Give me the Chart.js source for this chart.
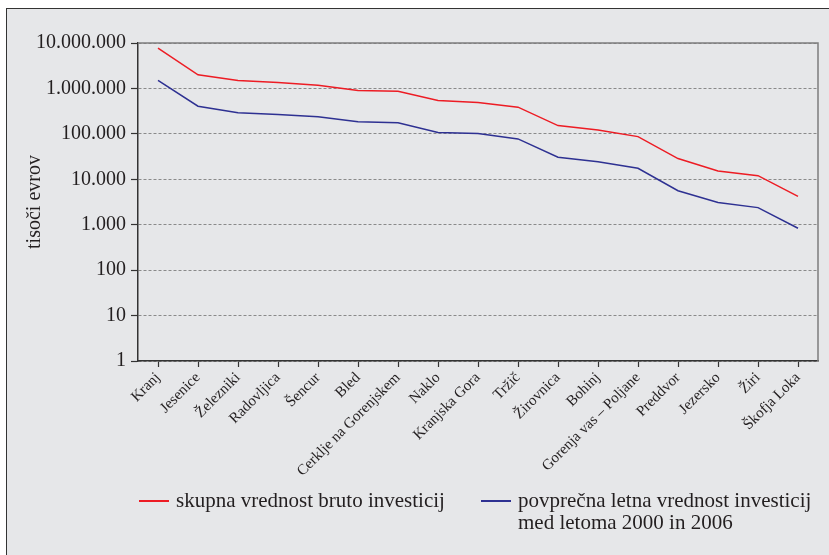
<!DOCTYPE html>
<html>
<head>
<meta charset="utf-8">
<script src="https://cdn.jsdelivr.net/npm/chart.js@4.4.1/dist/chart.umd.min.js"></script>
<style>
  body { margin: 0; background: #fff; font-family: "Liberation Serif", serif; color: #231f20; }
  #frame { position: absolute; left: 6px; top: 8px; width: 823px; height: 547px;
           border-left: 1px solid #333; border-top: 1px solid #333; background: #e6e7e9; }
  #chart { position: absolute; left: 0; top: 0; }
  .leg { position: absolute; font-size: 21px; line-height: 22px; white-space: pre-line; }
  .leg span { position: absolute; height: 1.5px; width: 30px; }
</style>
</head>
<body>
<div id="frame">
  <canvas id="chart" width="822" height="546"></canvas>
</div>
<div id="legend"></div>
<script>
var towns = ['Kranj', 'Jesenice', 'Železniki', 'Radovljica', 'Šencur', 'Bled', 'Cerklje na Gorenjskem',
  'Naklo', 'Kranjska Gora', 'Tržič', 'Žirovnica', 'Bohinj', 'Gorenja vas – Poljane', 'Preddvor',
  'Jezersko', 'Žiri', 'Škofja Loka'];
var skupna = [7700000, 2000000, 1490000, 1350000, 1180000, 900000, 870000, 540000, 490000, 387000,
  152000, 122000, 87000, 28600, 15300, 12000, 4200];
var povprecna = [1500000, 407000, 290000, 266000, 237000, 184000, 175000, 107000, 102000, 77500,
  30700, 24200, 17500, 5600, 3070, 2380, 837];
var yTicks = [1, 10, 100, 1000, 10000, 100000, 1000000, 10000000];
var seriesNames = ['skupna vrednost bruto investicij', 'povprečna letna vrednost investicij\nmed letoma 2000 in 2006'];
var colors = ['#ed1c24', '#2e3192'];

var font = '"Liberation Serif", serif';
var ink = '#231f20';

// top and right edge of the plot frame
var frameLines = {
  id: 'frameLines',
  afterDraw: function(chart) {
    var a = chart.chartArea, ctx = chart.ctx;
    ctx.save();
    ctx.strokeStyle = '#7d7d7d';
    ctx.lineWidth = 1.5;
    ctx.beginPath();
    ctx.moveTo(a.left, a.top);
    ctx.lineTo(a.right, a.top);
    ctx.lineTo(a.right, a.bottom);
    ctx.stroke();
    ctx.restore();
  }
};

var chart = new Chart(document.getElementById('chart'), {
  type: 'line',
  data: {
    labels: towns,
    datasets: [
      { label: seriesNames[0], data: skupna, borderColor: colors[0], borderWidth: 1.5, pointRadius: 0, tension: 0 },
      { label: seriesNames[1], data: povprecna, borderColor: colors[1], borderWidth: 1.5, pointRadius: 0, tension: 0 }
    ]
  },
  options: {
    responsive: false,
    animation: false,
    devicePixelRatio: 1,
    layout: { padding: { top: 34, right: 11, left: 0, bottom: 0 } },
    plugins: { legend: { display: false }, tooltip: { enabled: false } },
    scales: {
      x: {
        offset: true,
        afterFit: function(s) { s.height = 194; },
        grid: { drawOnChartArea: false, tickLength: 6, tickColor: '#333', tickWidth: 1.2 },
        border: { color: '#333', width: 1.5 },
        ticks: { autoSkip: false, minRotation: 45, maxRotation: 45, padding: 2, color: ink,
                 font: { family: font, size: 15 } }
      },
      y: {
        type: 'logarithmic',
        min: 1,
        max: 10000000,
        afterFit: function(s) { s.width = 131; },
        afterBuildTicks: function(s) { s.ticks = yTicks.map(function(v) { return { value: v }; }); },
        grid: { color: '#8a8a8a', lineWidth: 1, tickLength: 7, tickColor: '#333', tickWidth: 1.2, tickBorderDash: [] },
        border: { color: '#333', width: 1.5, dash: [3, 2] },
        ticks: {
          padding: 5, color: ink, font: { family: font, size: 20 },
          callback: function(v) { return String(v).replace(/\B(?=(\d{3})+(?!\d))/g, '.'); }
        },
        title: { display: true, text: 'tisoči evrov', color: ink, padding: { top: 16, bottom: 0 },
                 font: { family: font, size: 20 } }
      }
    }
  },
  plugins: [frameLines]
});

// legend below the chart, built from the dataset labels
var legPos = [[139, 489], [481, 489]];
var legend = document.getElementById('legend');
chart.data.datasets.forEach(function(ds, i) {
  var d = document.createElement('div');
  d.className = 'leg';
  d.style.left = (legPos[i][0] + 37) + 'px';
  d.style.top = legPos[i][1] + 'px';
  d.textContent = ds.label;
  var sw = document.createElement('span');
  sw.style.background = ds.borderColor;
  sw.style.left = '-37px';
  sw.style.top = '11px';
  d.appendChild(sw);
  legend.appendChild(d);
});
</script>
</body>
</html>
